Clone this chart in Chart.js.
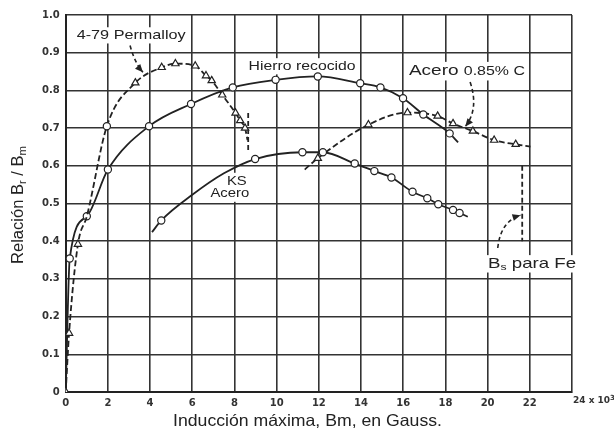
<!DOCTYPE html>
<html><head><meta charset="utf-8">
<script src="https://cdn.jsdelivr.net/npm/chart.js@4.4.1/dist/chart.umd.min.js"></script>
<style>html,body{margin:0;padding:0;background:#fff;}canvas{display:block;}</style>
</head><body>
<canvas id="c" width="614" height="432"></canvas>
<script>
// ---- data ----
const xTickValues = [0,2,4,6,8,10,12,14,16,18,20,22,24];
const yTickValues = [0,0.1,0.2,0.3,0.4,0.5,0.6,0.7,0.8,0.9,1.0];

const permalloyX = [0, 0.16, 0.58, 1.0, 1.95, 3.3, 4.55, 5.2, 6.14, 6.65, 6.92, 7.42, 8.05, 8.27, 8.5, 8.62];
const permalloyY = [0, 0.156, 0.392, 0.466, 0.705, 0.82, 0.861, 0.871, 0.865, 0.839, 0.826, 0.788, 0.74, 0.72, 0.70, 0.668];
const permalloyMarks = ['t','t','t','','c','t','t','t','t','t','t','t','t','t','t',''];

const hierroX = [0, 0.19, 1.0, 2.0, 3.95, 5.94, 7.92, 9.95, 11.95, 13.96, 14.92, 15.99, 16.95, 18.2, 18.6];
const hierroY = [0, 0.354, 0.466, 0.59, 0.705, 0.764, 0.808, 0.828, 0.837, 0.819, 0.808, 0.779, 0.736, 0.686, 0.662];
const hierroMarks = ['','c','c','c','c','c','c','c','c','c','c','c','c','c',''];

const ksX = [4.09, 4.53, 6.0, 7.5, 8.98, 11.22, 12.19, 13.7, 14.63, 15.44, 16.44, 17.14, 17.66, 18.36, 18.67, 19.06];
const ksY = [0.424, 0.455, 0.523, 0.58, 0.618, 0.636, 0.636, 0.606, 0.586, 0.569, 0.531, 0.514, 0.498, 0.483, 0.475, 0.465];
const ksMarks = ['','c','','','c','c','c','c','c','c','c','c','c','c','c',''];

const aceroX = [11.33, 11.95, 14.35, 16.2, 17.63, 18.36, 19.3, 20.31, 21.33, 22.03];
const aceroY = [0.59, 0.62, 0.709, 0.741, 0.732, 0.712, 0.692, 0.668, 0.657, 0.651];
const aceroMarks = ['','t','t','t','t','t','t','t','t',''];

const permalloyLimitX = [8.65, 8.65];
const permalloyLimitY = [0.74, 0.635];
const bsFeX = [21.64, 21.64];
const bsFeY = [0.60, 0.40];

// ---- helpers ----
const INK = '#222';
const FONT = '"Liberation Sans", Arial, sans-serif';
function pts(xs, ys){ return xs.map((x,i)=>({x:x, y:ys[i]})); }
function radii(m){ return m.map(k => k==='t' ? 4.2 : (k==='c' ? 3.6 : 0)); }
function styles(m){ return m.map(k => k==='t' ? 'triangle' : 'circle'); }

function curve(label, xs, ys, marks, dashed){
  return {
    label: label, data: pts(xs, ys),
    borderColor: INK, borderWidth: 1.8,
    borderDash: dashed ? [6,3] : [],
    cubicInterpolationMode: 'monotone',
    pointRadius: radii(marks), pointStyle: styles(marks),
    pointBackgroundColor: '#fff', pointBorderColor: INK, pointBorderWidth: 1.2,
    fill: false
  };
}
function segLine(label, xs, ys){
  return { label: label, data: pts(xs, ys), borderColor: INK, borderWidth: 1.8,
    borderDash: [5,3], pointRadius: 0, tension: 0, fill: false };
}

function richText(ctx, parts, x, y, width, bg){
  let total = 0;
  parts.forEach(p => { ctx.font = p.size + 'px ' + FONT; p.w = ctx.measureText(p.t).width; total += p.w; });
  const sx = width ? width / total : 1;
  const h = Math.max.apply(null, parts.map(p=>p.size));
  ctx.save();
  if (bg){
    ctx.fillStyle = '#fff';
    ctx.fillRect(x - 3, y - h*0.6, Math.min(width || total, 140) + 6, h*1.2);
  }
  ctx.translate(x, y); ctx.scale(sx, 1);
  ctx.fillStyle = INK; ctx.textBaseline = 'middle'; ctx.textAlign = 'left';
  let cx = 0;
  parts.forEach(p => { ctx.font = p.size + 'px ' + FONT; ctx.fillText(p.t, cx, p.dy || 0); cx += p.w; });
  ctx.restore();
}
function arrow(ctx, p0, c, p1){
  ctx.save();
  ctx.strokeStyle = INK; ctx.fillStyle = INK; ctx.lineWidth = 1.6;
  ctx.setLineDash([4,3]);
  ctx.beginPath(); ctx.moveTo(p0[0], p0[1]); ctx.quadraticCurveTo(c[0], c[1], p1[0], p1[1]); ctx.stroke();
  ctx.setLineDash([]);
  const ang = Math.atan2(p1[1]-c[1], p1[0]-c[0]);
  const L = 8, W = 3.5;
  ctx.beginPath();
  ctx.moveTo(p1[0], p1[1]);
  ctx.lineTo(p1[0] - L*Math.cos(ang) + W*Math.sin(ang), p1[1] - L*Math.sin(ang) - W*Math.cos(ang));
  ctx.lineTo(p1[0] - L*Math.cos(ang) - W*Math.sin(ang), p1[1] - L*Math.sin(ang) + W*Math.cos(ang));
  ctx.closePath(); ctx.fill();
  ctx.restore();
}

const labelsPlugin = {
  id: 'labels',
  beforeDatasetsDraw(chart){
    const ctx = chart.ctx, xs = chart.scales.x, ys = chart.scales.y;
    const P = (x,y) => [xs.getPixelForValue(x), ys.getPixelForValue(y)];
    let p;
    p = P(0.52, 0.946); richText(ctx, [{t:'4-79 Permalloy', size:13.5}], p[0], p[1], 109, true);
    p = P(8.67, 0.864); richText(ctx, [{t:'Hierro recocido', size:13.5}], p[0], p[1], 107, true);
    p = P(16.27, 0.851); richText(ctx, [{t:'Acero ', size:15.5}, {t:'0.85% C', size:13}], p[0], p[1], 116, true);
    ctx.font = '13.5px ' + FONT;
    p = P(8.11, 0.560);
    let w = ctx.measureText('KS').width; richText(ctx, [{t:'KS', size:13.5}], p[0]-w*0.55, p[1], w*1.1, true);
    ctx.font = '13.5px ' + FONT;
    p = P(7.78, 0.526);
    w = ctx.measureText('Acero').width; richText(ctx, [{t:'Acero', size:13.5}], p[0]-w*0.55, p[1], w*1.1, true);
    p = P(20.02, 0.340); richText(ctx, [{t:'B', size:14.5}, {t:'s', size:9.5, dy:3.5}, {t:' para Fe', size:14.5}], p[0], p[1], 88, true);
  },
  afterDraw(chart){
    const ctx = chart.ctx, xs = chart.scales.x, ys = chart.scales.y;
    const P = (x,y) => [xs.getPixelForValue(x), ys.getPixelForValue(y)];
    arrow(ctx, P(3.05,0.919), P(3.28,0.872), P(3.66,0.848));
    arrow(ctx, P(19.17,0.822), P(19.6,0.751), P(18.94,0.704));
    arrow(ctx, P(20.48,0.382), P(20.62,0.453), P(21.56,0.469));
    const px = xs.getPixelForValue(24), py = ys.getPixelForValue(0) + 9;
    ctx.save();
    ctx.fillStyle = '#333'; ctx.textBaseline = 'middle'; ctx.textAlign = 'left';
    ctx.font = 'bold 9px "DejaVu Sans", sans-serif';
    ctx.fillText('24 x 10', px + 1, py);
    const w = ctx.measureText('24 x 10').width;
    ctx.font = 'bold 7px "DejaVu Sans", sans-serif';
    ctx.fillText('3', px + 1 + w, py - 3);
    ctx.restore();
    const cx = (xs.getPixelForValue(0) + xs.getPixelForValue(24)) / 2;
    richText(ctx, [{t:'Inducción máxima, Bm, en Gauss.', size:16.5}], 173, 421, 269, false);
    ctx.save();
    ctx.translate(19, 205); ctx.rotate(-Math.PI/2);
    const parts = [{t:'Relación B', size:16}, {t:'r', size:11, dy:4}, {t:' / B', size:16}, {t:'m', size:11, dy:4}];
    richText(ctx, parts, -118/2, 0, 118, false);
    ctx.restore();
  }
};

new Chart(document.getElementById('c'), {
  type: 'line',
  data: { datasets: [
    curve('4-79 Permalloy', permalloyX, permalloyY, permalloyMarks, true),
    segLine('Permalloy limit', permalloyLimitX, permalloyLimitY),
    curve('Hierro recocido', hierroX, hierroY, hierroMarks, false),
    curve('KS Acero', ksX, ksY, ksMarks, false),
    curve('Acero 0.85% C', aceroX, aceroY, aceroMarks, true),
    segLine('Bs para Fe', bsFeX, bsFeY)
  ]},
  options: {
    responsive: false, animation: false, devicePixelRatio: 1,
    layout: { padding: { top: 15, right: 42, left: 36, bottom: 18 } },
    plugins: { legend: { display: false }, tooltip: { enabled: false }, title: { display: false } },
    scales: {
      x: {
        type: 'linear', min: 0, max: 24,
        grid: { color: '#333', lineWidth: 1.6, drawTicks: false },
        border: { display: true, color: '#222', width: 2 },
        ticks: { stepSize: 2, padding: 5, color: '#333', maxRotation: 0, autoSkip: false,
          font: { family: '"DejaVu Sans", sans-serif', size: 10, weight: 'bold' },
          callback: v => (xTickValues.indexOf(v) < 0 || v === 24) ? '' : String(v) }
      },
      y: {
        type: 'linear', min: 0, max: 1,
        grid: { color: '#333', lineWidth: 1.6, drawTicks: false },
        border: { display: true, color: '#222', width: 2 },
        ticks: { stepSize: 0.1, padding: 6, color: '#333', autoSkip: false,
          font: { family: '"DejaVu Sans", sans-serif', size: 10, weight: 'bold' },
          callback: v => v === 0 ? '0' : Number(v).toFixed(1) }
      }
    }
  },
  plugins: [labelsPlugin]
});
</script>
</body></html>
